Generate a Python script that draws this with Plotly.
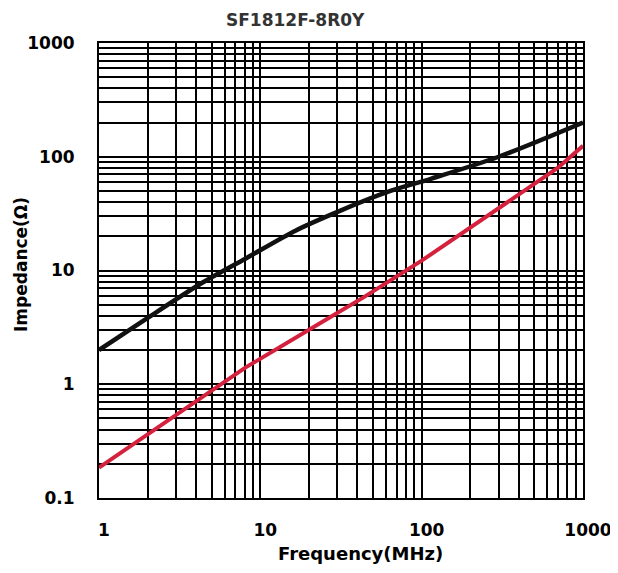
import plotly.graph_objects as go

# Data (frequency in MHz, impedance in ohms)
freq_z = [1, 1.93, 4.36, 8.07, 16.5, 31.4, 64, 114, 300, 1000]
z_total = [2.0, 3.7, 7.8, 12.7, 22.4, 33.6, 50, 64, 100, 200]

freq_x = [1, 8.07, 26.4, 43.6, 100, 700, 1000]
z_react = [0.185, 1.4, 3.8, 5.8, 12.2, 80, 125]

x_ticks = [1, 10, 100, 1000]
x_ticktext = ["1", "10", "100", "1000"]
y_ticks = [0.1, 1, 10, 100, 1000]
y_ticktext = ["0.1", "1", "10", "100", "1000"]

title_text = "SF1812F-8R0Y"
x_title = "Frequency(MHz)"
y_title = "Impedance(Ω)"

fig = go.Figure()
fig.add_trace(go.Scatter(x=freq_x, y=z_react, mode="lines",
                         line=dict(color="#d4213d", width=4), showlegend=False))
fig.add_trace(go.Scatter(x=freq_z, y=z_total, mode="lines",
                         line=dict(color="#111111", width=4.5, shape="spline", smoothing=0.8),
                         showlegend=False))

font_family = "DejaVu Sans, sans-serif"
ML, MR, MT, MB = 91, 43, 35, 83
pw = 618 - ML - MR
ph = 573 - MT - MB


def px_x(px):
    return (px - 8 - ML) / pw


def px_y(py):
    return 1 - (py - 8 - MT) / ph


fig.update_layout(
    width=618, height=573,
    margin=dict(l=ML, r=MR, t=MT, b=MB),
    paper_bgcolor="white", plot_bgcolor="white",
    font=dict(family=font_family, color="black"),
    annotations=[
        dict(text="<b>" + title_text + "</b>", x=px_x(295), y=px_y(20),
             xref="paper", yref="paper", xanchor="center", yanchor="middle",
             showarrow=False, font=dict(size=17, color="#333333")),
        dict(text="<b>" + x_title + "</b>", x=px_x(360), y=px_y(553),
             xref="paper", yref="paper", xanchor="center", yanchor="middle",
             showarrow=False, font=dict(size=18, color="black")),
        dict(text="<b>" + y_title + "</b>", x=px_x(21), y=px_y(265), textangle=-90,
             xref="paper", yref="paper", xanchor="center", yanchor="middle",
             showarrow=False, font=dict(size=17, color="black")),
    ],
)

fig.update_xaxes(
    type="log", range=[0, 3],
    tickvals=x_ticks, ticktext=x_ticktext,
    tickfont=dict(size=17, weight="bold", family=font_family),
    showgrid=True, gridcolor="black", gridwidth=1.6,
    minor=dict(showgrid=True, gridcolor="black", gridwidth=1.6,
               tickvals=[m * d for d in [1, 10, 100] for m in range(2, 10)]),
    showline=True, linecolor="black", linewidth=2, mirror=True,
    ticks="", ticklabelstandoff=16, ticklabelshift=5,
    zeroline=False, automargin=False,
)
fig.update_yaxes(
    type="log", range=[-1, 3],
    tickvals=y_ticks, ticktext=y_ticktext,
    tickfont=dict(size=17, weight="bold", family=font_family),
    showgrid=True, gridcolor="black", gridwidth=1.6,
    minor=dict(showgrid=True, gridcolor="black", gridwidth=1.6,
               tickvals=[m * d for d in [0.1, 1, 10, 100] for m in range(2, 10)]),
    showline=True, linecolor="black", linewidth=2, mirror=True,
    ticks="", ticklabelstandoff=19,
    zeroline=False, automargin=False,
)

fig.write_html("out.html")
